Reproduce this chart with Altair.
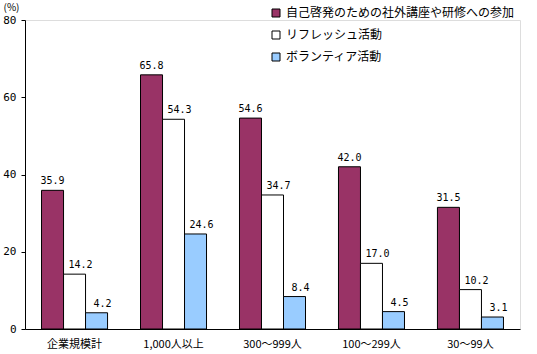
import altair as alt
import pandas as pd

categories = ["企業規模計", "1,000人以上", "300〜999人", "100〜299人", "30〜99人"]
series = ["自己啓発のための社外講座や研修への参加", "リフレッシュ活動", "ボランティア活動"]
colors = ["#993366", "#FFFFFF", "#99CCFF"]
values = {
    series[0]: [35.9, 65.8, 54.6, 42.0, 31.5],
    series[1]: [14.2, 54.3, 34.7, 17.0, 10.2],
    series[2]: [4.2, 24.6, 8.4, 4.5, 3.1],
}
y_ticks = [0, 20, 40, 60, 80]

rows = []
for s in series:
    for c, v in zip(categories, values[s]):
        rows.append({"cat": c, "series": s, "value": v, "order": series.index(s)})
df = pd.DataFrame(rows)

JP = "Noto Sans CJK JP"
MONO = "DejaVu Sans Mono"

x = alt.X("cat:N", sort=categories, title=None,
          scale=alt.Scale(paddingInner=0.333, paddingOuter=0.167),
          axis=alt.Axis(labelAngle=0, ticks=False, labelPadding=9, labelFont=JP,
                        labelFontSize=11, labelColor="black", domainColor="black"))
y = alt.Y("value:Q", scale=alt.Scale(domain=[0, 80]),
          axis=alt.Axis(values=y_ticks, grid=False, tickSize=4, tickColor="black",
                        domainColor="black", labelFont=MONO, labelFontSize=11,
                        labelColor="black", labelPadding=5,
                        title="(%)", titleAngle=0, titleX=-22, titleY=-13,
                        titleAlign="left", titleBaseline="middle",
                        titleFont=JP, titleFontSize=10, titleFontWeight="normal"))
xo = alt.XOffset("series:N", sort=series, scale=alt.Scale(paddingInner=0, paddingOuter=0))

bars = alt.Chart(df).mark_bar(stroke="black", strokeWidth=1).encode(
    x=x, y=y, xOffset=xo,
    color=alt.Color("series:N", sort=series,
                    scale=alt.Scale(domain=series, range=colors),
                    legend=alt.Legend(title=None, orient="none", legendX=245, legendY=-13,
                                      symbolType="square", symbolSize=64,
                                      symbolStrokeColor="black", symbolStrokeWidth=1,
                                      labelFont=JP, labelFontSize=12, labelColor="black",
                                      rowPadding=10, labelOffset=4, labelLimit=400)),
)

labels_first = alt.Chart(df).transform_filter(
    alt.datum.order == 0
).mark_text(baseline="bottom", dy=-4, font=MONO, fontSize=10, color="black").encode(
    x=x, y=y, xOffset=xo,
    text=alt.Text("value:Q", format=".1f"),
)

labels_rest = alt.Chart(df).transform_filter(
    alt.datum.order > 0
).mark_text(baseline="bottom", dy=-4, dx=6, font=MONO, fontSize=10, color="black").encode(
    x=x, y=y, xOffset=xo,
    text=alt.Text("value:Q", format=".1f"),
)

chart = alt.layer(bars, labels_first, labels_rest).properties(
    width=495, height=309,
    autosize=alt.AutoSizeParams(type="none"),
    padding={"left": 25, "top": 20, "right": 17, "bottom": 25},
).configure_view(stroke=None).configure(background="white")

chart.save("out.html", embed_options={"renderer": "svg", "actions": False})
